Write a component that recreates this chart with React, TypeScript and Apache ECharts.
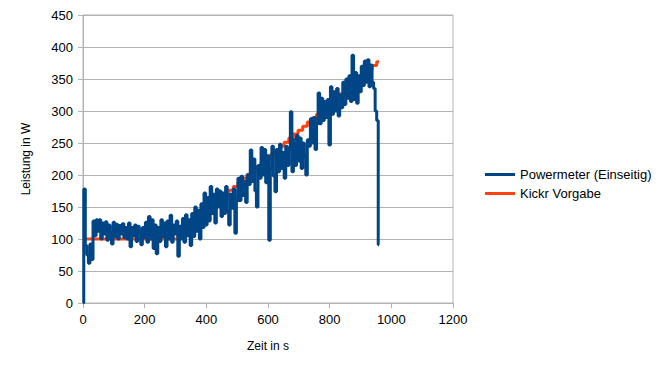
import React, { useEffect, useRef } from "react";
import * as echarts from "echarts";

const xTicks = { min: 0, max: 1200, interval: 200 };
const yTicks = { min: 0, max: 450, interval: 50 };

const seriesNames = ["Powermeter (Einseitig)", "Kickr Vorgabe"];

// Powermeter (Einseitig): [time s, power W]
const powerStart = [
  [0, 0], [5, 178], [10, 90], [15, 75], [20, 62], [25, 92], [30, 68], [35, 128],
  [40, 105], [45, 130], [50, 112], [55, 130], [60, 100], [65, 125], [70, 108], [75, 127], [80, 98], [85, 122], [90, 110], [95, 92], [100, 126],
  [105, 104], [110, 123], [115, 100], [120, 121], [125, 108], [130, 124], [135, 102], [140, 118], [145, 100], [150, 125], [155, 88], [160, 118], [165, 105], [170, 122], [175, 96], [180, 120], [185, 110], [190, 91],
];
const powerMid1 = [
  [195, 118], [200, 102], [205, 126], [210, 95], [215, 135], [220, 100], [225, 130], [230, 85], [235, 122], [240, 77], [245, 118], [250, 96], [255, 130], [260, 104], [265, 125], [270, 88], [275, 128], [280, 100], [285, 137], [290, 95], [295, 122], [300, 108],
  [305, 128], [310, 73], [315, 120], [320, 100], [325, 132], [330, 95], [335, 138], [340, 105], [345, 130], [350, 90],
  [355, 140], [360, 104], [365, 150], [370, 112], [375, 145], [380, 100], [385, 155], [390, 118], [395, 172], [400, 122],
];
const powerMid2 = [
  [405, 165], [410, 128], [415, 182], [420, 140], [425, 170], [430, 125], [435, 178], [440, 150],
  [445, 175], [450, 135], [455, 172], [460, 140], [465, 182], [470, 142], [475, 122], [480, 170], [485, 148], [490, 178], [495, 109], [500, 160],
  [505, 195], [510, 160], [515, 198], [520, 168], [525, 190], [530, 157], [535, 200],
  [540, 185], [545, 239], [550, 190], [555, 225], [560, 175], [565, 150], [570, 215],
  [575, 195], [580, 243], [585, 200], [590, 240], [595, 188], [600, 230], [605, 98], [610, 210], [615, 245], [620, 198], [625, 174], [630, 240],
];
const powerEnd = [
  [635, 205], [640, 248], [645, 210], [650, 235], [655, 195], [660, 245], [665, 215], [670, 240], [675, 299], [680, 205],
  [685, 255], [690, 215], [695, 262], [700, 222], [705, 258], [710, 210], [715, 250], [720, 230], [725, 200], [730, 255],
  [735, 245], [740, 288], [745, 250], [750, 290], [755, 240], [760, 280],
  [765, 328], [770, 280], [775, 320], [780, 285],
  [785, 315], [790, 290], [795, 318], [800, 247], [805, 338],
  [810, 295], [815, 330], [820, 300], [825, 335], [830, 292], [835, 325], [840, 305],
  [845, 345], [850, 310], [855, 350], [860, 320], [865, 355], [870, 315], [875, 387], [880, 318],
  [885, 360], [890, 312], [895, 355], [900, 330],
  [905, 370], [910, 340], [915, 378], [920, 345], [925, 380], [930, 338], [935, 372], [940, 345],
  [945, 335], [950, 300], [955, 285], [960, 91],
];

// Kickr Vorgabe: [time s, target W]
const kickrTarget = [
  [0, 100], [300, 100], [315, 106], [330, 113], [345, 119], [360, 125], [375, 132], [390, 138], [405, 144], [420, 150],
  [435, 157], [450, 163], [465, 169], [480, 176], [495, 182], [510, 188], [525, 195], [540, 201], [555, 207], [570, 213],
  [585, 220], [600, 226], [615, 232], [630, 239], [645, 245], [660, 251], [675, 258], [690, 264], [705, 270], [720, 276],
  [735, 283], [750, 289], [765, 295], [780, 302], [795, 308], [810, 314], [825, 321], [840, 327], [855, 333], [870, 339],
  [885, 346], [900, 352], [915, 358], [930, 365], [945, 371], [960, 377],
];

const FONT = "'Liberation Sans', Arial, sans-serif";
const GRAY = "#b3b3b3";

export default function App() {
  const ref = useRef<HTMLDivElement>(null);
  useEffect(() => {
    if (!ref.current) return;
    const chart = echarts.init(ref.current, null, { renderer: "svg" });
    const powerData = [...powerStart, ...powerMid1, ...powerMid2, ...powerEnd];
    chart.setOption({
      animation: false,
      backgroundColor: "#ffffff",
      textStyle: { fontFamily: FONT },
      grid: {
        left: 83,
        top: 15,
        right: 211,
        bottom: 71,
        show: true,
        borderColor: GRAY,
        borderWidth: 1,
        backgroundColor: "transparent",
      },
      legend: {
        data: seriesNames,
        orient: "vertical",
        left: 480,
        top: 163,
        itemWidth: 30,
        itemHeight: 3,
        itemGap: 6,
        icon: "rect",
        textStyle: { fontFamily: FONT, fontSize: 13, color: "#000" },
      },
      xAxis: {
        type: "value",
        ...xTicks,
        name: "Zeit in s",
        nameLocation: "middle",
        nameGap: 37,
        nameTextStyle: { fontFamily: FONT, fontSize: 12, color: "#000" },
        axisLine: { show: true, lineStyle: { color: GRAY, width: 1 } },
        axisTick: { show: true, length: 5, lineStyle: { color: GRAY } },
        axisLabel: {
          fontFamily: FONT,
          fontSize: 13,
          color: "#000",
          margin: 10,
          formatter: (v: number) => String(v),
        },
        splitLine: { show: false },
      },
      yAxis: {
        type: "value",
        ...yTicks,
        name: "Leistung in W",
        nameLocation: "middle",
        nameGap: 51,
        nameTextStyle: { fontFamily: FONT, fontSize: 12, color: "#000" },
        axisLine: { show: true, lineStyle: { color: GRAY, width: 1 } },
        axisTick: { show: true, length: 5, lineStyle: { color: GRAY } },
        axisLabel: {
          fontFamily: FONT,
          fontSize: 13,
          color: "#000",
          margin: 10,
          formatter: (v: number) => String(v),
        },
        splitLine: { show: true, lineStyle: { color: GRAY, width: 1 } },
      },
      series: [
        {
          name: seriesNames[0],
          type: "line",
          data: powerData,
          step: "middle",
          showSymbol: false,
          symbol: "none",
          z: 3,
          itemStyle: { color: "#004586" },
          lineStyle: { color: "#004586", width: 3 },
        },
        {
          name: seriesNames[1],
          type: "line",
          data: kickrTarget,
          step: "middle",
          showSymbol: false,
          symbol: "none",
          z: 2,
          itemStyle: { color: "#ff420e" },
          lineStyle: { color: "#ff420e", width: 3 },
        },
      ],
    });
    return () => chart.dispose();
  }, []);
  return (
    <div
      ref={ref}
      style={{ position: "fixed", left: 0, top: 0, width: 664, height: 374, background: "#fff" }}
    />
  );
}
